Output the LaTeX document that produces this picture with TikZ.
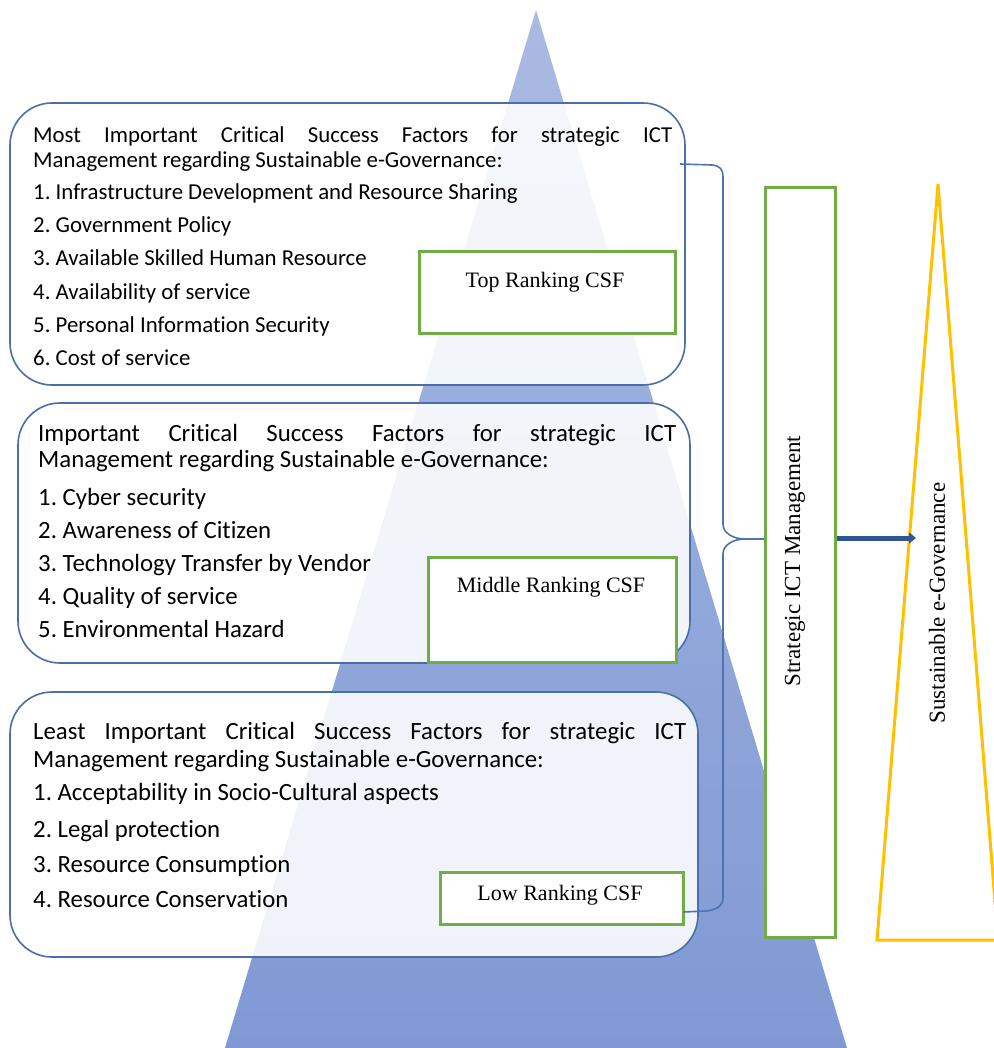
\documentclass[tikz,border=0pt]{standalone}
\usepackage{fontspec}
\setmainfont{Carlito}[Ligatures=NoCommon]
\newfontfamily\labelfont{Liberation Serif}
\usetikzlibrary{arrows.meta}
\definecolor{pyrtop}{RGB}{170,186,226}
\definecolor{pyrbot}{RGB}{128,153,212}
\definecolor{cardedge}{RGB}{74,110,166}
\definecolor{csfgreen}{RGB}{112,173,71}
\definecolor{bracecol}{RGB}{79,114,176}
\definecolor{arrowblue}{RGB}{47,85,151}
\definecolor{goldline}{RGB}{255,192,0}
\frenchspacing
\newcommand\cardsize[2]{\fontsize{#1}{#2}\selectfont\hyphenpenalty=10000\exhyphenpenalty=10000}
\tikzset{
  card/.style={draw=cardedge, line width=1.6pt, fill=white, fill opacity=0.88,
    rounded corners=42pt, inner sep=0pt},
  rankbox/.style={draw=csfgreen, line width=3pt, fill=white, inner sep=0pt},
  ranktext/.style={inner sep=0pt, font=\labelfont\fontsize{22}{26}\selectfont},
  sidetext/.style={inner sep=0pt, rotate=90, font=\labelfont\fontsize{23}{27}\selectfont},
  head/.style={anchor=base west, inner sep=0pt, align=justify},
  item/.style={anchor=base west, inner sep=0pt},
  bracket/.style={draw=bracecol, line width=1.6pt},
}
\begin{document}
\begin{tikzpicture}[x=1pt, y=-1pt]
\useasboundingbox (0,0) rectangle (993,1048);
\fill[white] (0,0) rectangle (993,1048);

% pyramid in the background
\shade[top color=pyrtop, bottom color=pyrbot] (536,10) -- (847,1048) -- (225,1048) -- cycle;

% three ranking cards
\node[card, minimum width=675pt, minimum height=282pt] (topcard) at (347.5,244) {};
\node[card, minimum width=672pt, minimum height=260pt] (midcard) at (354,533) {};
\node[card, minimum width=688pt, minimum height=265pt] (lowcard) at (354,824.5) {};

% card 1
\begin{scope}[every node/.append style={font=\cardsize{22.8}{24.5}}]
\node[head, text width=639pt] (h1) at (33,143) {Most Important Critical Success Factors for strategic ICT\linebreak Management regarding Sustainable e-Governance:};
\node[item] (t1) at (33,200) {1. Infrastructure Development and Resource Sharing};
\node[item] (t2) at (33,233) {2. Government Policy};
\node[item] (t3) at (33,266) {3. Available Skilled Human Resource};
\node[item] (t4) at (33,299) {4. Availability of service};
\node[item] (t5) at (33,332) {5. Personal Information Security};
\node[item] (t6) at (33,365) {6. Cost of service};
\end{scope}

% card 2
\begin{scope}[every node/.append style={font=\cardsize{24.8}{26}}]
\node[head, text width=638pt] (h2) at (38,441) {Important Critical Success Factors for strategic ICT\linebreak Management regarding Sustainable e-Governance:};
\node[item] (m1) at (38,505) {1. Cyber security};
\node[item] (m2) at (38,538) {2. Awareness of Citizen};
\node[item] (m3) at (38,571) {3. Technology Transfer by Vendor};
\node[item] (m4) at (38,604) {4. Quality of service};
\node[item] (m5) at (38,637) {5. Environmental Hazard};
\end{scope}

% card 3
\begin{scope}[every node/.append style={font=\cardsize{24.8}{28}}]
\node[head, text width=653pt] (h3) at (33,739) {Least Important Critical Success Factors for strategic ICT\linebreak Management regarding Sustainable e-Governance:};
\node[item] (l1) at (33,800) {1. Acceptability in Socio-Cultural aspects};
\node[item] (l2) at (33,837) {2. Legal protection};
\node[item] (l3) at (33,872) {3. Resource Consumption};
\node[item] (l4) at (33,907) {4. Resource Conservation};
\end{scope}

% ranking labels
\node[rankbox, minimum width=256pt, minimum height=81pt] (topcsf) at (547.5,292.5) {};
\node[ranktext] (toptxt) at (545,282) {Top Ranking CSF};
\node[rankbox, minimum width=248pt, minimum height=105pt] (midcsf) at (552,609.5) {};
\node[ranktext] (midtxt) at (551,587) {Middle Ranking CSF};
\node[rankbox, minimum width=243pt, minimum height=52pt] (lowcsf) at (561.5,898) {};
\node[ranktext] (lowtxt) at (560,895) {Low Ranking CSF};

% strategic management column
\node[rankbox, minimum width=70pt, minimum height=749pt] (ict) at (800,562.5) {};
\node[sidetext] (icttxt) at (795,561) {Strategic ICT Management};

% bracket gathering the three cards
\coordinate (btop) at (680,164);
\coordinate (cusp) at (745,539);
\coordinate (bbot) at (683,912);
\draw[bracket] (btop) -- (712,165) .. controls (720,166) and (723,169) .. (723,177)
  -- (723,524) .. controls (723,533) and (733,539) .. (cusp);
\draw[bracket] (cusp) .. controls (733,539) and (723,545) .. (723,554)
  -- (723,898) .. controls (723,906) and (716,910) .. (706,911) -- (bbot);
\draw[bracket] (cusp) -- (ict.west |- cusp);

% sustainable e-governance triangle
\draw[goldline, line width=3pt, fill=white, line join=miter] (938,184) -- (998,940) -- (877,940) -- cycle;
\node[sidetext] (egov) at (937,603) {Sustainable e-Governance};

% arrow into the triangle
\coordinate (arrowend) at (916,538);
\draw[arrowblue, line width=5pt, -{Triangle[length=7pt,width=11pt]}] (ict.east |- arrowend) -- (arrowend);
\end{tikzpicture}
\end{document}
